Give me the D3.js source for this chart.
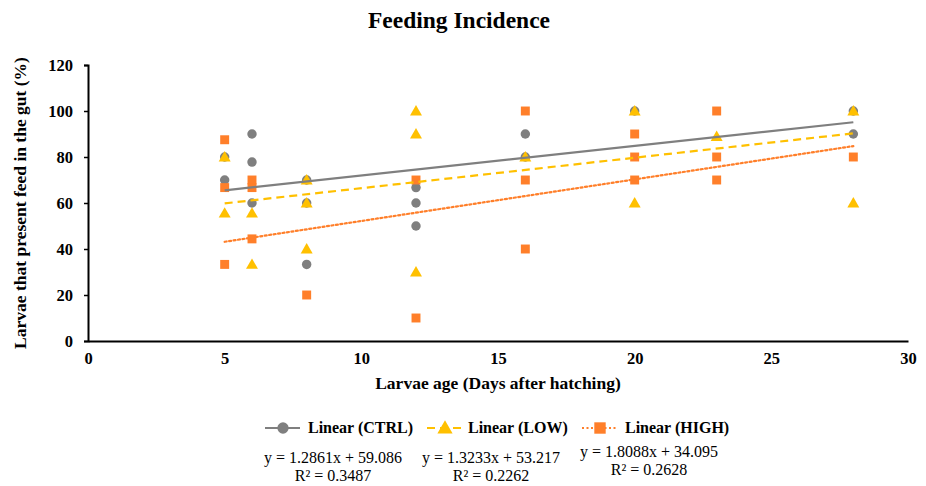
<!DOCTYPE html>
<html>
<head>
<meta charset="utf-8">
<script src="https://cdn.jsdelivr.net/npm/d3@7"></script>
<style>
  body { margin: 0; background: #fff; }
  svg text { font-family: "Liberation Serif", "Times New Roman", serif; fill: #000; }
</style>
</head>
<body>
<svg id="chart" width="926" height="486"></svg>
<script>
// series data (days after hatching, % of larvae with food in gut)
const ctrlDays = [5, 5, 6, 6, 6, 8, 8, 8, 12, 12, 12, 16, 16, 20, 28, 28];
const ctrlPct  = [70, 80, 90, 77.8, 60, 70, 60, 33.3, 66.7, 60, 50, 90, 80, 100, 100, 90];

const lowDays = [5, 5, 6, 6, 8, 8, 8, 12, 12, 12, 16, 20, 20, 23, 28, 28];
const lowPct  = [80, 55.6, 55.6, 33.3, 70, 60, 40, 100, 90, 30, 80, 100, 60, 88.9, 100, 60];

const highDays = [5, 5, 5, 6, 6, 6, 8, 12, 12, 16, 16, 16, 20, 20, 20, 23, 23, 23, 28];
const highPct  = [87.5, 66.7, 33.3, 70, 66.7, 44.4, 20, 70, 10, 100, 70, 40, 90, 80, 70, 100, 80, 70, 80];

// trend line coefficients (slope, intercept) and R²
const seriesNames = ["CTRL", "LOW", "HIGH"];
const slopes = [1.2861, 1.3233, 1.8088];
const intercepts = [59.086, 53.217, 34.095];
const rSquared = ["0.3487", "0.2262", "0.2628"];
const trendRange = [5, 28];

const xTicks = [0, 5, 10, 15, 20, 25, 30];
const yTicks = [0, 20, 40, 60, 80, 100, 120];

const colors = { CTRL: "#7f7f7f", LOW: "#ffc000", HIGH: "#ff7f2a" };
const dashes = { CTRL: null, LOW: "8,5", HIGH: "2,2.5" };

const svg = d3.select("#chart");
const margin = { left: 88, right: 18, top: 65, bottom: 145 };
const W = 926, H = 486;

const x = d3.scaleLinear().domain([0, 30]).range([margin.left, W - margin.right]);
const y = d3.scaleLinear().domain([0, 120]).range([H - margin.bottom, margin.top]);

// title
svg.append("text")
  .attr("x", 459).attr("y", 28)
  .attr("text-anchor", "middle")
  .attr("font-size", "23.5px").attr("font-weight", "bold")
  .text("Feeding Incidence");

// y axis
const yAxis = svg.append("g")
  .attr("transform", `translate(${margin.left},0)`)
  .call(d3.axisLeft(y).tickValues(yTicks).tickSize(4).tickPadding(11));
yAxis.select(".domain").attr("stroke", "#000").attr("stroke-width", 2);
yAxis.selectAll(".tick line").attr("stroke", "#000").attr("stroke-width", 1.5);
yAxis.selectAll(".tick text")
  .attr("font-family", "Liberation Serif, serif")
  .attr("font-size", "16.5px").attr("font-weight", "bold");

// x axis (no tick marks)
const xAxis = svg.append("g")
  .attr("transform", `translate(0,${y(0)})`)
  .call(d3.axisBottom(x).tickValues(xTicks).tickSize(0).tickPadding(11).tickSizeOuter(0));
xAxis.select(".domain").attr("stroke", "#000").attr("stroke-width", 2);
xAxis.selectAll(".tick text")
  .attr("font-family", "Liberation Serif, serif")
  .attr("font-size", "16.5px").attr("font-weight", "bold");

// axis titles
svg.append("text")
  .attr("x", (x(0) + x(30)) / 2).attr("y", 389)
  .attr("text-anchor", "middle")
  .attr("font-size", "17.5px").attr("font-weight", "bold")
  .text("Larvae age (Days after hatching)");

svg.append("text")
  .attr("transform", `translate(26,${(y(0) + y(120)) / 2}) rotate(-90)`)
  .attr("text-anchor", "middle")
  .attr("font-size", "17.5px").attr("font-weight", "bold")
  .text("Larvae that present feed in the gut (%)");

// marker drawing helpers
const sym = {
  CTRL: d3.symbol().type(d3.symbolCircle).size(70),
  LOW: d3.symbol().type(d3.symbolTriangle).size(62),
  HIGH: d3.symbol().type(d3.symbolSquare).size(80)
};

function drawPoints(name, days, pct) {
  const pts = days.map((d, i) => ({ d, p: pct[i] }));
  svg.append("g").attr("class", "pts-" + name)
    .selectAll("path")
    .data(pts)
    .enter()
    .append("path")
    .attr("d", sym[name])
    .attr("transform", (v) => `translate(${x(v.d)},${y(v.p) + (name === "LOW" ? 1 : 0)})`)
    .attr("fill", colors[name]);
}

drawPoints("CTRL", ctrlDays, ctrlPct);
drawPoints("LOW", lowDays, lowPct);
drawPoints("HIGH", highDays, highPct);

// trend lines
const line = d3.line().x((d) => x(d[0])).y((d) => y(d[1]));
seriesNames.forEach((name, i) => {
  const pts = trendRange.map((t) => [t, slopes[i] * t + intercepts[i]]);
  svg.append("path")
    .datum(pts)
    .attr("d", line)
    .attr("fill", "none")
    .attr("stroke", colors[name])
    .attr("stroke-width", 2.2)
    .attr("stroke-dasharray", dashes[name])
    .attr("stroke-linecap", name === "HIGH" ? "round" : "butt");
});

// legend
const legendY = 428;
const legendX = [265, 427, 582];
const legendTextX = [308, 468, 625];
seriesNames.forEach((name, i) => {
  const g = svg.append("g");
  const x0 = legendX[i];
  g.append("line")
    .attr("x1", x0).attr("x2", x0 + 35)
    .attr("y1", legendY).attr("y2", legendY)
    .attr("stroke", colors[name]).attr("stroke-width", 2.2)
    .attr("stroke-dasharray", dashes[name]);
  g.append("path")
    .attr("d", d3.symbol().type(name === "CTRL" ? d3.symbolCircle : name === "LOW" ? d3.symbolTriangle : d3.symbolSquare)
      .size(name === "CTRL" ? 100 : name === "LOW" ? 100 : 130))
    .attr("transform", `translate(${x0 + 18},${legendY + (name === "LOW" ? 1 : 0)})`)
    .attr("fill", colors[name]);
  g.append("text")
    .attr("x", legendTextX[i]).attr("y", legendY + 5)
    .attr("font-size", "16px").attr("font-weight", "bold")
    .text(`Linear (${name})`);
});

// equations
const eqX = [333, 491, 649];
const eqY = [463, 463, 457];
seriesNames.forEach((name, i) => {
  svg.append("text")
    .attr("x", eqX[i]).attr("y", eqY[i])
    .attr("text-anchor", "middle").attr("font-size", "16px")
    .text(`y = ${slopes[i].toFixed(4)}x + ${intercepts[i].toFixed(3)}`);
  svg.append("text")
    .attr("x", eqX[i]).attr("y", eqY[i] + 18)
    .attr("text-anchor", "middle").attr("font-size", "16px")
    .text(`R² = ${rSquared[i]}`);
});
</script>
</body>
</html>
